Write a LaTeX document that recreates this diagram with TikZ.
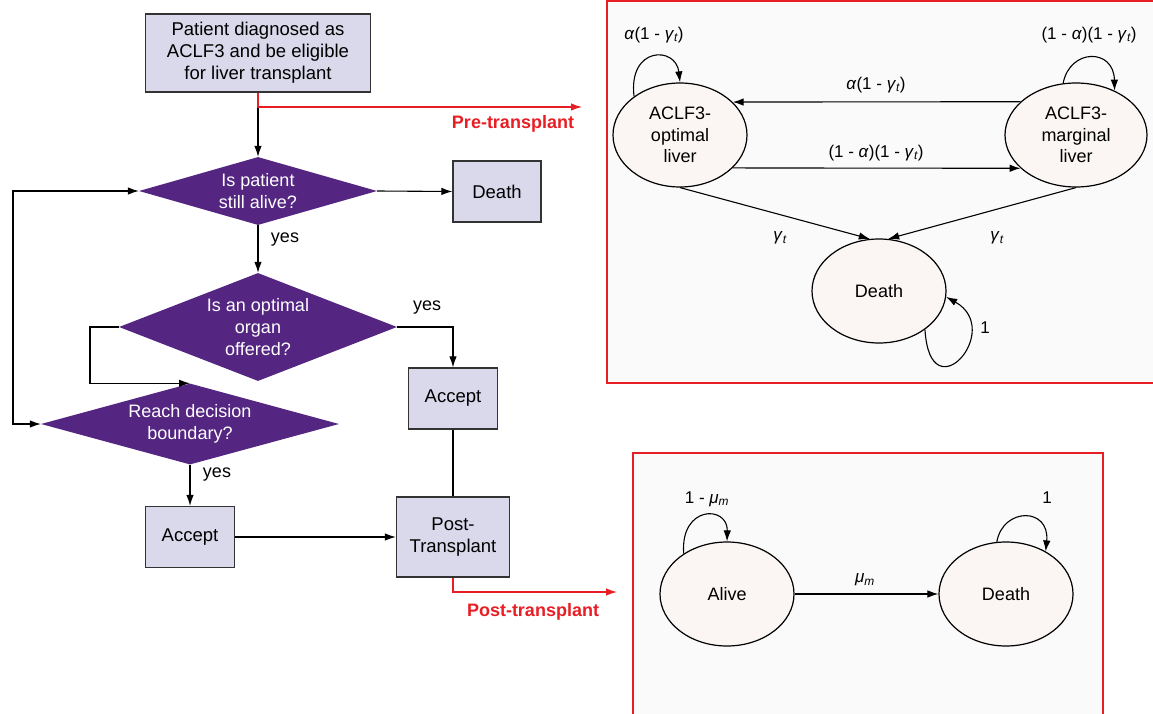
\documentclass[tikz,border=0pt]{standalone}
\usepackage{fontspec}
\setmainfont{Liberation Sans}
\usetikzlibrary{shapes.geometric,arrows.meta}
\definecolor{boxfill}{HTML}{D9D9EB}
\definecolor{dpurple}{HTML}{542682}
\definecolor{rred}{HTML}{E81E25}
\definecolor{ellfill}{HTML}{FBF6F3}
\definecolor{panelbg}{HTML}{FAFAFA}
\definecolor{bordgrey}{HTML}{333333}
\newcommand{\gt}{\textit{γ}\textsubscript{\itshape t}}
\newcommand{\al}{\textit{α}}
\newcommand{\mum}{\textit{μ}\textsubscript{\itshape m}}
\begin{document}
\begin{tikzpicture}[x=1pt,y=-1pt,
 fbox/.style={draw=bordgrey,line width=1.3pt,fill=boxfill,inner sep=0pt,align=center,font=\fontsize{18.5}{22}\selectfont},
 dia/.style={shape=diamond,fill=dpurple,inner sep=0pt,text=white,align=center,font=\fontsize{18}{22}\selectfont},
 st/.style={ellipse,draw,line width=1.2pt,fill=ellfill,inner sep=0pt,minimum width=134pt,minimum height=104pt,align=center,font=\fontsize{18}{21.7}\selectfont},
 arr/.style={line width=1.1pt,-{Latex[length=11pt,width=7.5pt]}},
 ln/.style={line width=1.1pt},
 redarr/.style={draw=rred,line width=1.2pt,-{Latex[length=11pt,width=7.5pt]}},
 redlbl/.style={text=rred,font=\bfseries\fontsize{18}{22}\selectfont,inner sep=0pt},
 lbl/.style={font=\fontsize{17}{20}\selectfont,inner sep=0pt},
 panel/.style={draw=rred,line width=1.1pt,fill=panelbg}]

\useasboundingbox (0,0) rectangle (1153,714);
\fill[white] (0,0) rectangle (1153,714);

% panels
\path[panel] (607,1) rectangle (1170,383);
\path[panel] (633,453) rectangle (1103,730);

% flowchart nodes
\node[fbox,minimum width=225pt,minimum height=78pt] (start) at (258,53) {Patient diagnosed as\\ACLF3 and be eligible\\for liver transplant};
\node[dia,aspect=3.5,minimum width=238pt,minimum height=68pt] (d1) at (258,191) {Is patient\\still alive?};
\node[fbox,minimum width=88pt,minimum height=61pt] (death) at (497,191.5) {Death};
\node[dia,aspect=2.57,minimum width=278pt,minimum height=108pt] (d2) at (258,327) {Is an optimal\\organ\\offered?};
\node[dia,aspect=3.68,minimum width=298pt,minimum height=81pt] (d3) at (190,424) {Reach decision\\boundary?};
\node[fbox,minimum width=89pt,minimum height=61pt] (acc1) at (453,398.5) {Accept};
\node[fbox,minimum width=89pt,minimum height=61pt] (acc2) at (190,537) {Accept};
\node[fbox,minimum width=113pt,minimum height=80pt] (post) at (453,537) {Post-\\Transplant};

% flowchart connectors
\draw[arr] (start.south) -- (d1.north);
\coordinate (preEnd) at (582,107);
\draw[redarr] (start.south) |- (preEnd);
\node[redlbl] (prelbl) at (513,124) {Pre-transplant};
\draw[arr] (d1.east) -- (death.west);
\draw[arr] (d1.south) -- (d2.north);
\node[lbl,font=\fontsize{18}{20}\selectfont] (yes1) at (285,240) {yes};
\draw[arr] (d2.east) -| (acc1.north);
\node[lbl,font=\fontsize{18}{20}\selectfont] (yes2) at (427,308) {yes};
\coordinate (lp2) at (90,350);
\draw[arr] (d2.west) -| (lp2) |- (d3.north);
\coordinate (lp1) at (13,300);
\draw[line width=1.1pt,{Latex[length=11pt,width=7.5pt]}-{Latex[length=11pt,width=7.5pt]}] (d1.west) -| (lp1) |- (d3.west);
\draw[arr] (d3.south) -- (acc2.north);
\node[lbl,font=\fontsize{18}{20}\selectfont] (yes3) at (217,475) {yes};
\draw[ln] (acc1.south) -- (post.north);
\draw[arr] (acc2.east) -- (post.west);
\coordinate (postEnd) at (617,592);
\draw[redarr] (post.south) |- (postEnd);
\node[redlbl] (postlbl) at (533,612) {Post-transplant};

% pre-transplant Markov model
\node[st] (opt) at (680,135) {ACLF3-\\optimal\\liver};
\node[st,minimum width=142pt] (mar) at (1076,135) {ACLF3-\\marginal\\liver};
\node[st] (dth) at (879,291) {Death};
\draw[arr] (mar.149) -- (opt.32.5);
\draw[arr] (opt.-32.5) -- (mar.-149);
\node[lbl] (l1) at (876,85) {\al(1 - \gt)};
\node[lbl] (l2) at (876,153) {(1 - \al)(1 - \gt)};
\draw[arr] (opt.south) -- (dth.100);
\draw[arr] (mar.south) -- (dth.80);
\node[lbl] (l3) at (780,238) {\gt};
\node[lbl] (l4) at (997,238) {\gt};
\draw[arr] (opt.140) .. controls (628,46) and (676,46) .. (opt.north);
\node[lbl] (l5) at (654,35) {\al(1 - \gt)};
\draw[arr] (mar.104) .. controls (1070,48) and (1114,48) .. (mar.49);
\node[lbl] (l6) at (1089,35) {(1 - \al)(1 - \gt)};
\draw[arr] (dth.-40) .. controls (930,415) and (1005,330) .. (dth.-5);
\node[lbl] (l7) at (985,328) {1};

% post-transplant Markov model
\node[st] (alive) at (727,594) {Alive};
\node[st] (dth2) at (1006,594) {Death};
\draw[arr] (alive.east) -- (dth2.west);
\node[lbl] (l8) at (865,580) {\mum};
\draw[arr] (alive.137) .. controls (680,505) and (728,505) .. (alive.north);
\node[lbl] (l9) at (707,499) {1 - \mum};
\draw[arr] (dth2.100) .. controls (1003,507) and (1050,507) .. (dth2.47);
\node[lbl] (l10) at (1047,498) {1};
\end{tikzpicture}
\end{document}
